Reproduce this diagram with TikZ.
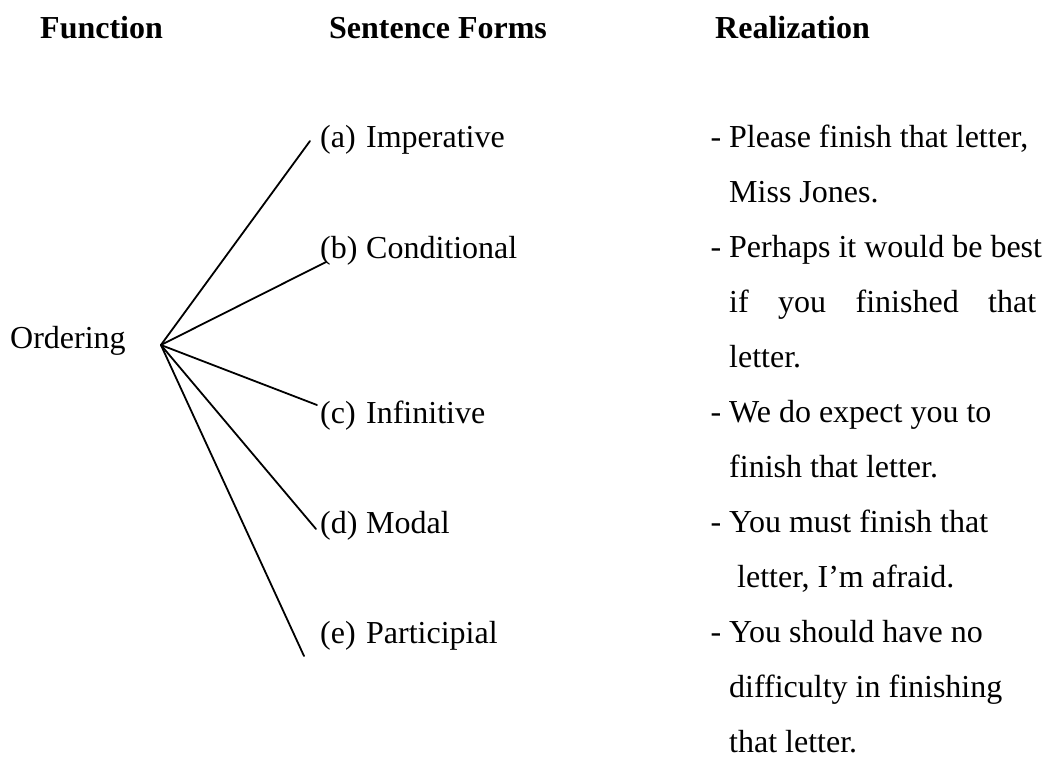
\documentclass[tikz,border=0pt]{standalone}
\usepackage{fontspec}
\setmainfont{Liberation Serif}
\usetikzlibrary{positioning}

\begin{document}
\begin{tikzpicture}[
  x=1pt, y=-1pt,
  txt/.style={
    anchor=base west, inner sep=0pt,
    font=\fontsize{32}{38}\selectfont
  },
  head/.style={txt, font=\fontsize{32}{38}\selectfont\bfseries},
  form/.style={txt},
  real/.style={txt},
  branch/.style={line width=1.8pt, line cap=round}
]
\useasboundingbox (0,0) rectangle (1055,758);

% Column heads
\node[head] (hfun)  at (40,38)  {Function};
\node[head] (hform) at (329,38) {Sentence Forms};
\node[head] (hreal) at (715,38) {Realization};

% Function
\node[txt] (ordering) at (10,348) {Ordering};
\coordinate (root) at ([xshift=35pt,yshift=3pt]ordering.base east);

% Sentence forms
\node[form] (fa) at (320,147) {\makebox[46pt][l]{(a)}Imperative};
\node[form] (fb) at (320,258) {\makebox[46pt][l]{(b)}Conditional};
\node[form] (fc) at (320,423) {\makebox[46pt][l]{(c)}Infinitive};
\node[form] (fd) at (320,533) {\makebox[46pt][l]{(d)}Modal};
\node[form] (fe) at (320,643) {\makebox[46pt][l]{(e)}Participial};

% Branch ends
\coordinate (ea) at ([xshift=-10pt,yshift=6pt]fa.base west);
\coordinate (eb) at ([xshift=6pt,yshift=-4pt]fb.base west);
\coordinate (ec) at ([xshift=-3pt,yshift=18pt]fc.base west);
\coordinate (ed) at ([xshift=-4pt,yshift=4pt]fd.base west);
\coordinate (ee) at ([xshift=-16pt,yshift=-13pt]fe.base west);

\foreach \e in {ea,eb,ec,ed,ee}
  \draw[branch] (root) -- (\e);

% Realizations
\foreach \line [count=\i from 0] in {
    {\llap{- }Please finish that letter,},
    {Miss Jones.},
    {\llap{- }Perhaps it would be best},
    {\makebox[307pt][s]{if you finished that}},
    {letter.},
    {\llap{- }We do expect you to},
    {finish that letter.},
    {\llap{- }You must finish that},
    {\hspace{8pt}letter, I’m afraid.},
    {\llap{- }You should have no},
    {difficulty in finishing},
    {that letter.}}
  \node[real] (r\i) at (729,147+55*\i) {\line};

\end{tikzpicture}
\end{document}
